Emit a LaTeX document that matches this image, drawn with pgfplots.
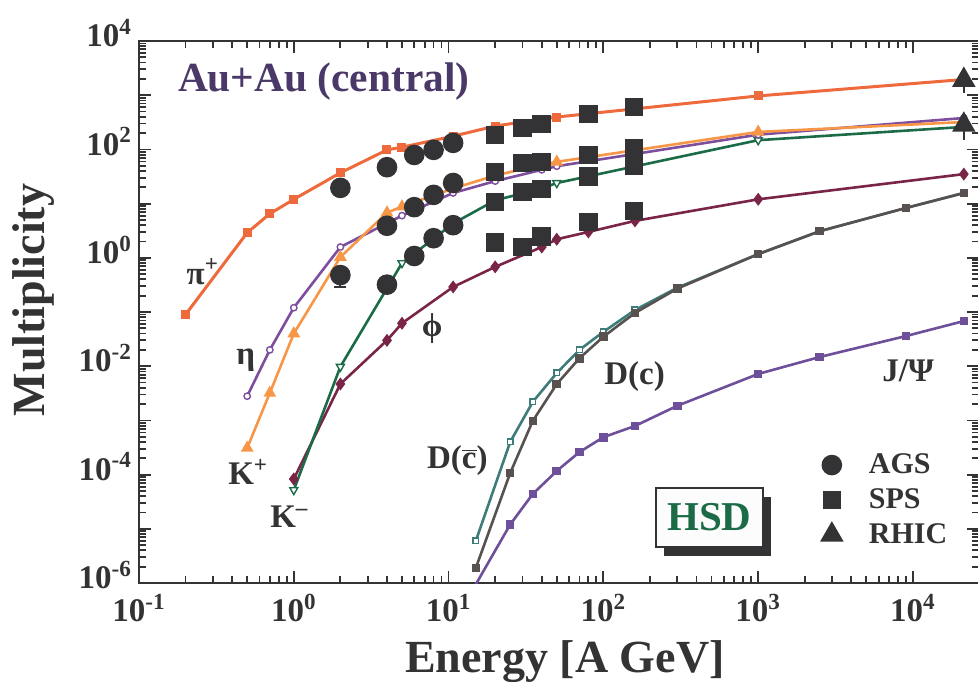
\documentclass[border=0pt]{standalone}
\usepackage{fontspec}
\setmainfont{Liberation Serif}
\usepackage{pgfplots}
\pgfplotsset{compat=1.18}
\definecolor{cpi}{HTML}{EE6A3C}
\definecolor{ckp}{HTML}{F79646}
\definecolor{ceta}{HTML}{7D4E9E}
\definecolor{ckm}{HTML}{1B6B47}
\definecolor{cphi}{HTML}{7A2548}
\definecolor{cdc}{HTML}{575250}
\definecolor{cdcb}{HTML}{3E7C7A}
\definecolor{cjpsi}{HTML}{6E4F9A}
\definecolor{cdata}{HTML}{333336}
\definecolor{ctitle}{HTML}{4A3868}
\definecolor{chsd}{HTML}{1B6B47}
\definecolor{caxis}{HTML}{333333}
\begin{document}
\begin{tikzpicture}
\begin{axis}[
  name=ax,
  xmode=log, ymode=log,
  scale only axis, width=420pt, height=271pt,
  xmin=0.1, xmax=26700, ymin=1e-6, ymax=1e4,
  xtick={0.1,1,10,100,1000,10000},
  ytick={1e-6,1e-5,1e-4,1e-3,1e-2,1e-1,1,10,100,1000,10000},
  xticklabel={\pgfmathparse{int(round(\tick/2.302585093))}10\textsuperscript{\pgfmathresult}},
  yticklabel={\pgfmathparse{int(round(\tick/2.302585093))}\ifodd\pgfmathresult\relax\else 10\textsuperscript{\pgfmathresult}\fi},
  tick label style={font=\fontsize{16.5}{18}\selectfont\bfseries, text=caxis},
  yticklabel style={yshift=4pt},
  xticklabel style={yshift=-2pt},
  axis line style={caxis, line width=1pt},
  tick style={caxis, line width=0.9pt},
  major tick length=6pt, minor tick length=3.5pt,
  xlabel={Energy [A GeV]}, ylabel={Multiplicity},
  label style={font=\fontsize{23}{26}\selectfont\bfseries, text=caxis},
  xlabel style={at={(axis description cs:0.507,-0.166)}, anchor=base},
  ylabel style={at={(axis description cs:-0.112,0.522)}, anchor=base},
  legend style={at={(axis description cs:0.813,0.245)}, anchor=north west, draw=none, fill=none,
    font=\fontsize{15}{17}\selectfont\bfseries, text=caxis, row sep=3pt, inner sep=0pt,
    nodes={inner sep=1.5pt}},
  legend cell align=left,
  legend image code/.code={\draw[#1] plot coordinates {(0pt,0pt)}; \path[draw=none, fill=none] (-4.5pt,0pt) -- (17pt,0pt);},
  every axis plot/.append style={line width=1.3pt},
]
\addlegendimage{only marks, mark=*, mark size=4.5pt, color=cdata}
\addlegendentry{AGS}
\addlegendimage{only marks, mark=square*, mark size=4pt, color=cdata}
\addlegendentry{SPS}
\addlegendimage{only marks, mark=triangle*, mark size=5.5pt, color=cdata}
\addlegendentry{RHIC}

% HSD calculations
\addplot[color=cdcb, mark=square*, mark size=1.4pt, mark options={fill=white, line width=0.7pt}] coordinates {
(15,6e-6) (25,4e-4) (35,0.0022) (50,0.0075) (70,0.02) (100,0.043) (160,0.109) (300,0.28) (1000,1.17) (2500,3.1) (9000,8.3) (21300,15.7)};
\addplot[color=cdc, mark=square*, mark size=1.5pt] coordinates {
(15,1.9e-6) (25,1.07e-4) (35,9.8e-4) (50,0.0047) (70,0.014) (100,0.035) (160,0.096) (300,0.27) (1000,1.17) (2500,3.1) (9000,8.3) (21300,15.7)};
\addplot[color=cjpsi, mark=square*, mark size=1.5pt] coordinates {
(14.5,8e-7) (25,1.2e-5) (35,4.4e-5) (50,1.17e-4) (70,2.6e-4) (100,4.9e-4) (160,7.9e-4) (300,1.86e-3) (1000,7.2e-3) (2500,0.0148) (9000,0.036) (21300,0.068)};
\addplot[color=cphi, mark=diamond*, mark size=2.2pt] coordinates {
(1,8.3e-5) (2,0.0047) (4,0.03) (5,0.062) (10.7,0.29) (20,0.68) (40,1.58) (50,2.2) (80,3.0) (160,4.8) (1000,12) (21300,35)};
\addplot[color=ckm, mark=triangle*, mark size=2.3pt, mark options={rotate=180, fill=white, line width=0.7pt}] coordinates {
(1,5.2e-5) (2,0.0098) (5,0.8) (10.7,4.3) (20,11.5) (40,19) (50,24) (1000,148) (21300,260)};
\addplot[color=ceta, mark=*, mark size=1.6pt, mark options={fill=white, line width=0.7pt}] coordinates {
(0.5,0.0028) (0.7,0.02) (1,0.12) (2,1.58) (5,6.0) (10.7,15.7) (20,26) (40,42) (50,49) (1000,187) (21300,380)};
\addplot[color=ckp, mark=triangle*, mark size=2.4pt] coordinates {
(0.5,0.00031) (0.7,0.0032) (1,0.04) (2,1.03) (4,6.8) (5,8.8) (10.7,19) (20,33) (40,52) (50,59) (1000,210) (21300,320)};
\addplot[color=cpi, mark=square*, mark size=1.5pt, line width=1.5pt] coordinates {
(0.2,0.09) (0.5,2.9) (0.7,6.5) (1,12) (2,37) (4,98) (5,110) (10.7,175) (20,270) (50,396) (160,560) (1000,970) (21300,1950)};

% data: AGS
\addplot[only marks, mark=*, mark size=4.5pt, color=cdata,
  error bars/.cd, y dir=minus, y explicit, error bar style={line width=1pt, color=cdata}, error mark options={rotate=90, mark size=3pt, line width=1pt}]
  coordinates {(2,0.48) -= (0,0.19)};
\addplot[only marks, mark=*, mark size=4.5pt, color=cdata] coordinates {
(2,19.5) (4,47) (6,79) (8,98) (10.7,132)
(4,3.9) (6,8.6) (8,14.5) (10.7,24)
(4,0.32) (6,1.08) (8,2.3) (10.7,4.0)};
% data: SPS
\addplot[only marks, mark=square*, mark size=4pt, color=cdata] coordinates {
(20,185) (30,248) (40,294) (80,448) (158,604)
(20,38) (30,56) (40,59) (80,79) (158,107)
(20,10.7) (30,16.3) (40,18.6) (80,32) (158,49)
(20,1.9) (30,1.58) (40,2.5) (80,4.6) (158,7.3)};
% data: RHIC
\addplot[only marks, mark=triangle*, mark size=5.5pt, color=cdata,
  error bars/.cd, y dir=minus, y explicit, error bar style={line width=1pt, color=cdata}, error mark=none]
  coordinates {(21300,1900) -= (0,800) (21300,283) -= (0,135)};

% labels
\begin{scope}[every node/.style={inner sep=0pt, text=caxis, font=\fontsize{16.5}{19}\selectfont\bfseries}]
\node at (rel axis cs:0.076,0.574) {π\textsuperscript{+}};
\node at (rel axis cs:0.127,0.411) {η};
\node at (rel axis cs:0.130,0.205) {K\textsuperscript{+}};
\node at (rel axis cs:0.179,0.122) {K\textsuperscript{–}};
\node at (rel axis cs:0.349,0.470) {ϕ};
\node at (rel axis cs:0.379,0.225) {D($\overline{\mbox{c}}$)};
\node at (rel axis cs:0.590,0.380) {D(c)};
\node at (rel axis cs:0.9155,0.391) {J/Ψ};
\end{scope}
\node[anchor=base west, inner sep=0pt, font=\fontsize{20.7}{24}\selectfont\bfseries, text=ctitle] at (rel axis cs:0.046,0.906) {Au+Au (central)};
\node[fill=cdata, minimum width=53.5pt, minimum height=29.5pt, inner sep=0pt] at (rel axis cs:0.6886,0.1044) {};
\node[draw=caxis, line width=1pt, fill=white!98!gray, minimum width=53.5pt, minimum height=29.5pt, inner sep=0pt,
  font=\fontsize{20.5}{24}\selectfont\bfseries, text=chsd] at (rel axis cs:0.679,0.121) {HSD};
\end{axis}
\pgfresetboundingbox
\path[use as bounding box] ([shift={(-69.5pt,-49pt)}]ax.south west) rectangle ([shift={(-0.5pt,20.5pt)}]ax.north east);
\end{tikzpicture}
\end{document}
